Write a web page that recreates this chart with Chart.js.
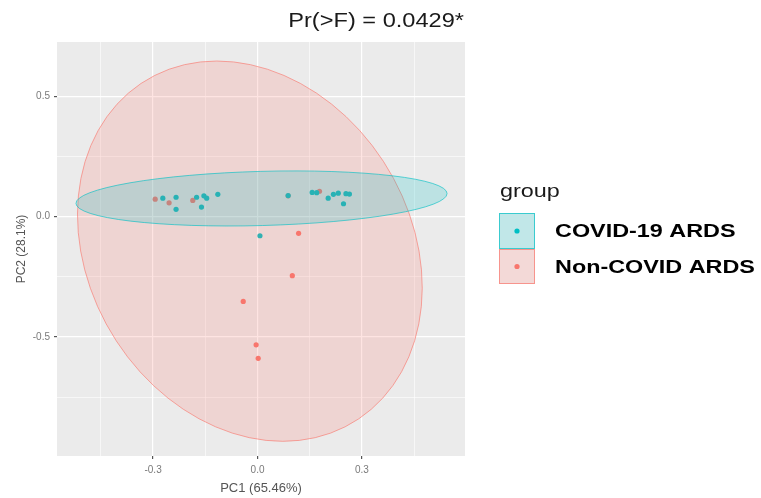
<!DOCTYPE html>
<html>
<head>
<meta charset="utf-8">
<script src="https://cdn.jsdelivr.net/npm/chart.js"></script>
<style>
  html, body { margin: 0; padding: 0; background: #fff; }
  #wrap { width: 761px; height: 498px; }
</style>
</head>
<body>
<div id="wrap"><canvas id="myChart" width="761" height="498"></canvas></div>
<script>
// data
const groups = ['COVID-19 ARDS', 'Non-COVID ARDS'];
const groupColors = ['#00BFC4', '#F8766D'];

const covidX = [-0.272, -0.234, -0.234, -0.175, -0.154, -0.146, -0.161, -0.114, 0.088, 0.157, 0.170, 0.203, 0.218, 0.232, 0.254, 0.264, 0.247, 0.007];
const covidY = [0.076, 0.080, 0.030, 0.080, 0.086, 0.076, 0.039, 0.092, 0.087, 0.100, 0.099, 0.076, 0.092, 0.097, 0.095, 0.093, 0.053, -0.080];

const nonCovidX = [-0.294, -0.254, -0.186, 0.088, 0.178, 0.118, 0.100, -0.041, -0.004, 0.002];
const nonCovidY = [0.072, 0.057, 0.067, 0.086, 0.105, -0.070, -0.246, -0.353, -0.533, -0.589];

// ellipses: centre x, centre y, then two conjugate semi-axis vectors (data units)
const covidEllipse = [0.0115, 0.075, 0.533, 0.0208, 0.0021, -0.1125];
const nonCovidEllipse = [-0.022, -0.144, -0.0948, 0.790, 0.486, 0];

const xTicks = [-0.3, 0, 0.3];
const xMinor = [-0.45, -0.15, 0.15, 0.45];
const yTicks = [-0.5, 0, 0.5];
const yMinor = [-0.75, -0.25, 0.25];

const titleText = 'Pr(>F) = 0.0429*';
const xTitle = 'PC1 (65.46%)';
const yTitle = 'PC2 (28.1%)';
const legendTitle = 'group';

const FONT = "'Liberation Sans', Arial, sans-serif";

function toPoints(xs, ys) {
  return xs.map((v, i) => ({ x: v, y: ys[i] }));
}

function isMajor(list, v) {
  return list.some(t => Math.abs(t - v) < 1e-9);
}

function setTicks(major, minor) {
  return function (scale) {
    scale.ticks = major.concat(minor).sort((a, b) => a - b).map(v => ({ value: v }));
  };
}

function drawEllipse(chart, e, color) {
  const { ctx, scales: { x, y } } = chart;
  const cx = x.getPixelForValue(e[0]);
  const cy = y.getPixelForValue(e[1]);
  const kx = x.getPixelForValue(1) - x.getPixelForValue(0);
  const ky = y.getPixelForValue(1) - y.getPixelForValue(0);
  ctx.save();
  ctx.beginPath();
  ctx.save();
  ctx.transform(e[2] * kx, e[3] * ky, e[4] * kx, e[5] * ky, cx, cy);
  ctx.arc(0, 0, 1, 0, Math.PI * 2);
  ctx.restore();
  ctx.globalAlpha = 0.2;
  ctx.fillStyle = color;
  ctx.fill();
  ctx.globalAlpha = 0.7;
  ctx.lineWidth = 0.9;
  ctx.strokeStyle = color;
  ctx.stroke();
  ctx.restore();
}

// text with a little horizontal stretch, like the source image
function stretchText(ctx, text, x, y, sx, align) {
  ctx.save();
  ctx.scale(sx, 1);
  ctx.textAlign = align;
  ctx.fillText(text, x / sx, y);
  ctx.restore();
}

const panelPlugin = {
  id: 'panel',
  beforeDraw(chart) {
    const { ctx, chartArea: a } = chart;
    ctx.save();
    ctx.fillStyle = '#fff';
    ctx.fillRect(0, 0, chart.width, chart.height);
    ctx.fillStyle = '#EBEBEB';
    ctx.fillRect(a.left, a.top, a.right - a.left, a.bottom - a.top);
    ctx.restore();
  },
  afterDatasetsDraw(chart) {
    drawEllipse(chart, nonCovidEllipse, groupColors[1]);
    drawEllipse(chart, covidEllipse, groupColors[0]);
  },
  afterDraw(chart) {
    const ctx = chart.ctx;
    ctx.save();
    ctx.textBaseline = 'middle';
    // title
    ctx.fillStyle = '#1a1a1a';
    ctx.font = '20px ' + FONT;
    stretchText(ctx, titleText, 464, 21, 1.18, 'right');
    // legend
    ctx.fillStyle = '#1a1a1a';
    ctx.font = '18px ' + FONT;
    stretchText(ctx, legendTitle, 500, 192, 1.3, 'left');
    const keys = [[499, 213, 36, 36], [499, 249, 36, 35]];
    groups.forEach((g, i) => {
      const k = keys[i];
      ctx.fillStyle = '#F2F2F2';
      ctx.fillRect(k[0], k[1], k[2], k[3]);
      ctx.globalAlpha = 0.2;
      ctx.fillStyle = groupColors[i];
      ctx.fillRect(k[0], k[1], k[2], k[3]);
      ctx.globalAlpha = 0.7;
      ctx.strokeStyle = groupColors[i];
      ctx.lineWidth = 1;
      ctx.strokeRect(k[0] + 0.5, k[1] + 0.5, k[2] - 1, k[3] - 1);
      ctx.globalAlpha = 1;
      ctx.fillStyle = groupColors[i];
      ctx.beginPath();
      ctx.arc(k[0] + k[2] / 2, k[1] + k[3] / 2, 2.6, 0, Math.PI * 2);
      ctx.fill();
      ctx.fillStyle = '#000';
      ctx.font = 'bold 19px ' + FONT;
      stretchText(ctx, g, 555, k[1] + k[3] / 2 + 1, 1.23, 'left');
    });
    ctx.restore();
  }
};

const data = {
  datasets: [{
    label: groups[0],
    data: toPoints(covidX, covidY),
    backgroundColor: groupColors[0],
    pointRadius: 2.6,
    borderWidth: 0
  }, {
    label: groups[1],
    data: toPoints(nonCovidX, nonCovidY),
    backgroundColor: groupColors[1],
    pointRadius: 2.6,
    borderWidth: 0
  }]
};

const config = {
  type: 'scatter',
  data: data,
  options: {
    responsive: false,
    animation: false,
    layout: { padding: { left: 0, top: 42, right: 296, bottom: 0 } },
    plugins: { legend: { display: false }, tooltip: { enabled: false } },
    scales: {
      x: {
        min: -0.576,
        max: 0.596,
        afterBuildTicks: setTicks(xTicks, xMinor),
        afterFit: s => { s.height = 42; },
        border: { display: false },
        grid: {
          color: '#fff',
          lineWidth: c => isMajor(xTicks, c.tick.value) ? 1.2 : 0.6,
          tickLength: 3,
          tickColor: c => isMajor(xTicks, c.tick.value) ? '#555' : 'rgba(0,0,0,0)'
        },
        ticks: {
          autoSkip: false,
          maxRotation: 0,
          padding: 5,
          color: '#7a7a7a',
          font: { family: FONT, size: 10 },
          callback: v => isMajor(xTicks, v) ? v.toFixed(1) : ''
        },
        title: {
          display: true,
          text: xTitle,
          color: '#555',
          font: { family: FONT, size: 13 },
          padding: { top: 0, bottom: 2 }
        }
      },
      y: {
        min: -0.995,
        max: 0.725,
        afterBuildTicks: setTicks(yTicks, yMinor),
        afterFit: s => { s.width = 57; },
        border: { display: false },
        grid: {
          color: '#fff',
          lineWidth: c => isMajor(yTicks, c.tick.value) ? 1.2 : 0.6,
          tickLength: 3,
          tickColor: c => isMajor(yTicks, c.tick.value) ? '#555' : 'rgba(0,0,0,0)'
        },
        ticks: {
          autoSkip: false,
          padding: 4,
          color: '#7a7a7a',
          font: { family: FONT, size: 10 },
          callback: v => isMajor(yTicks, v) ? v.toFixed(1) : ''
        },
        title: {
          display: true,
          text: yTitle,
          color: '#555',
          font: { family: FONT, size: 12 },
          padding: { top: 14, bottom: 0 }
        }
      }
    }
  },
  plugins: [panelPlugin]
};

const myChart = new Chart(
  document.getElementById('myChart'),
  config
);
</script>
</body>
</html>
